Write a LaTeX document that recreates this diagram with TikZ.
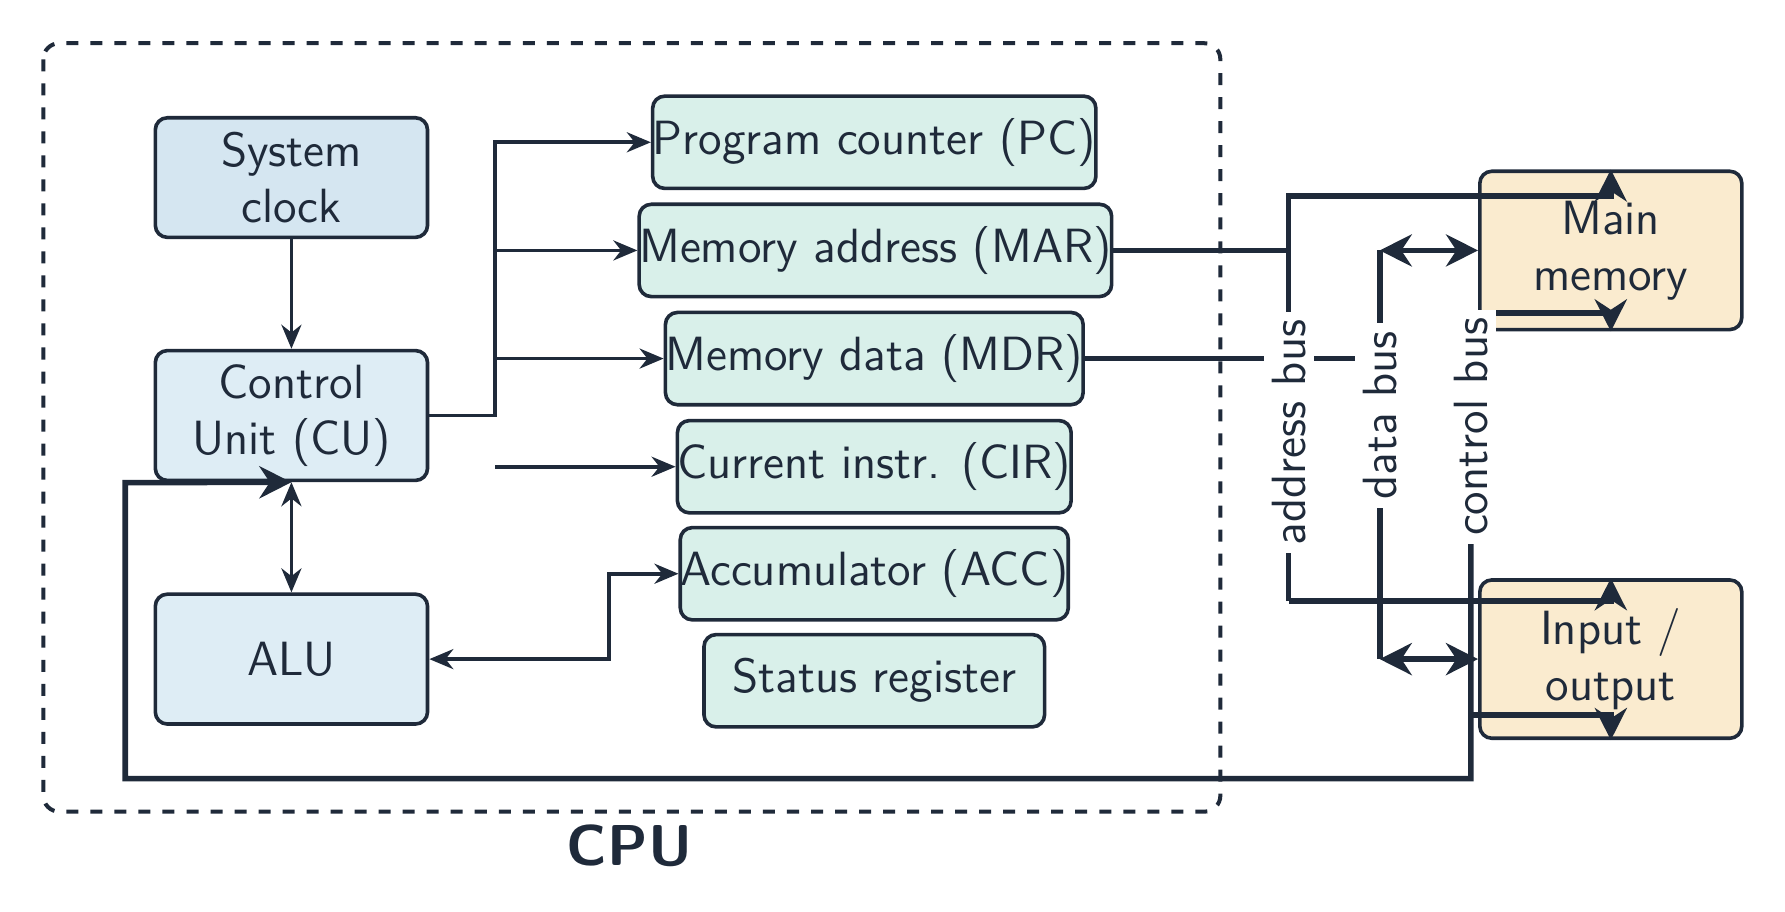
\documentclass[tikz,border=0pt]{standalone}
\usepackage{tikz}
\usetikzlibrary{arrows.meta}
\definecolor{ink}{HTML}{1F2A3A}
\definecolor{clockfill}{HTML}{D5E6F1}
\definecolor{cufill}{HTML}{DEEDF5}
\definecolor{regfill}{HTML}{D9F0EA}
\definecolor{memfill}{HTML}{FAEBCF}
\tikzset{
  W/.tip={Stealth[length=6pt,width=5pt]},
  B/.tip={Stealth[length=8pt,width=8pt]},
  box/.style={draw=ink,line width=0.9pt,rounded corners=3pt,align=center,font=\sffamily\large,text=ink,inner sep=0pt},
  unit/.style={box,fill=cufill,minimum width=2.39cm,minimum height=1.14cm},
  reg/.style={box,fill=regfill,minimum height=0.81cm},
  mem/.style={box,fill=memfill,minimum width=2.3cm,minimum height=1.39cm},
  wire/.style={draw=ink,line width=0.9pt},
  bus/.style={draw=ink,line width=1.4pt},
  buslabel/.style={fill=white,rotate=90,font=\sffamily\large,text=ink,inner sep=2pt}
}
\begin{document}
\begin{tikzpicture}[x=0.01cm,y=-0.01cm]
\useasboundingbox (0,0) rectangle (1568,801);
% CPU frame
\draw[ink,dashed,line width=1pt,rounded corners=4pt] (38,38) rectangle (1072,713);
\node[font=\sffamily\Large\bfseries,text=ink] (cpu) at (553,743) {CPU};
% units
\node[unit,fill=clockfill,minimum height=1.05cm] (clock) at (256,156) {System\\clock};
\node[unit] (cu) at (256,365) {Control\\Unit (CU)};
\node[unit] (alu) at (256,579) {ALU};
% registers
\node[reg,minimum width=3.65cm] (pc) at (768,125) {Program counter (PC)};
\node[reg,minimum width=3.88cm] (mar) at (769,220) {Memory address (MAR)};
\node[reg,minimum width=3.47cm] (mdr) at (768,315) {Memory data (MDR)};
\node[reg,minimum width=3.25cm] (cir) at (768,410) {Current instr. (CIR)};
\node[reg,minimum width=3.25cm] (acc) at (768,504) {Accumulator (ACC)};
\node[reg,minimum width=2.99cm] (sr) at (768,598) {Status register};
% memory and io
\node[mem] (mem) at (1415,220) {Main\\memory};
\node[mem] (io) at (1415,579) {Input /\\output};
% internal wires
\draw[wire,-W] (clock) -- (cu);
\draw[wire,W-W] (cu) -- (alu);
\coordinate (fork) at (435,365);
\draw[wire,-W] (cu.east) -- (fork) |- (pc.west);
\draw[wire,-W] (435,220) -- (mar.west);
\draw[wire,-W] (435,315) -- (mdr.west);
\draw[wire,-W] (435,410) -- (cir.west);
\draw[wire,W-W] (alu.east) -- (535,579) |- (acc.west);
% buses
\coordinate (abus) at (1132,220);
\coordinate (dbus) at (1212,315);
\coordinate (cbus) at (1292,684);
\draw[bus] (mar.east) -- (abus);
\draw[bus] (mdr.east) -- (dbus);
\draw[bus,-B] (1132,528) -- (1132,172) -| (mem.north);
\draw[bus,-B] (1132,528) -| (io.north);
\draw[bus,B-B] (1212,220) -- (mem.west);
\draw[bus,B-B] (1212,579) -- (io.west);
\draw[bus] (1212,220) -- (1212,579);
\draw[bus,-B] (1292,275) -| (mem.south);
\draw[bus,-B] (1292,628) -| (io.south);
\draw[bus,-B] (1292,275) -- (cbus) -| (110,424) -- (cu.south);
% bus labels
\node[buslabel] (alab) at (1132,380) {address bus};
\node[buslabel] (dlab) at (1212,365) {data bus};
\node[buslabel] (clab) at (1292,375) {control bus};
\end{tikzpicture}
\end{document}
